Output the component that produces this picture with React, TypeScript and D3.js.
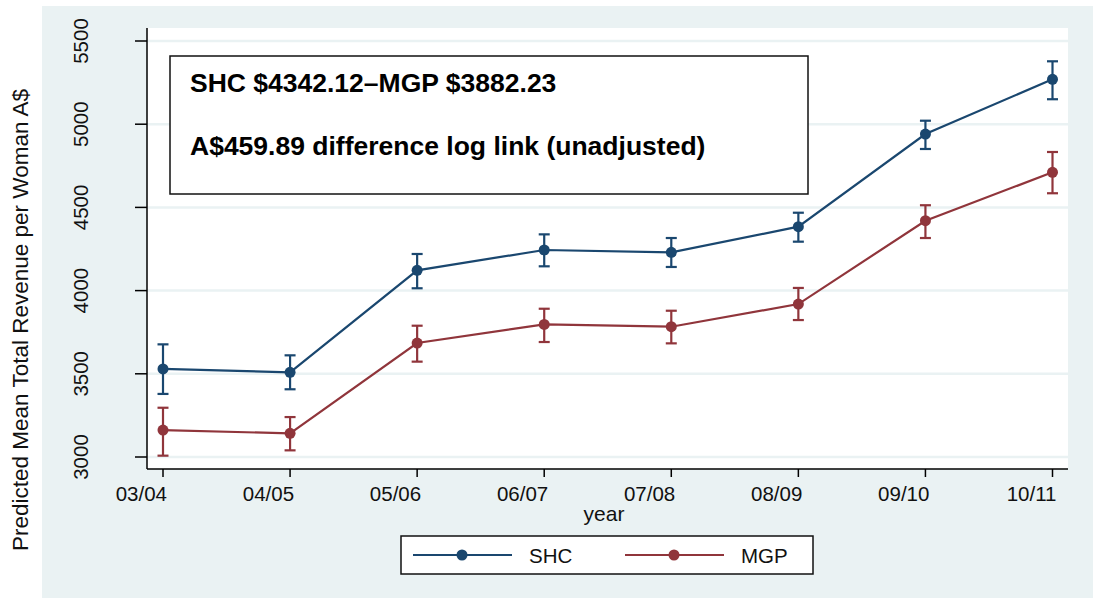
import React from "react";
import * as d3 from "d3";

const years = ["03/04", "04/05", "05/06", "06/07", "07/08", "08/09", "09/10", "10/11"];
const shcMean = [3529, 3509, 4122, 4244, 4230, 4384, 4941, 5270];
const shcLow = [3379, 3407, 4014, 4146, 4142, 4294, 4851, 5150];
const shcHigh = [3677, 3611, 4220, 4338, 4316, 4468, 5021, 5378];
const mgpMean = [3162, 3142, 3685, 3797, 3783, 3919, 4420, 4711];
const mgpLow = [3008, 3040, 3573, 3691, 3683, 3823, 4316, 4585];
const mgpHigh = [3296, 3240, 3789, 3891, 3879, 4016, 4513, 4833];
const yTicks = [3000, 3500, 4000, 4500, 5000, 5500];
const seriesNames = ["SHC", "MGP"];
const boxLines = ["SHC $4342.12\u2013MGP $3882.23", "A$459.89 difference log link (unadjusted)"];

const W = 1093;
const H = 598;
const NAVY = "#1a476f";
const MAROON = "#90353b";
const BG = "#eaf2f3";
const FONT = "'Liberation Sans', Arial, Helvetica, sans-serif";

export default function App() {
  const plotL = 147, plotR = 1068, plotT = 28, plotB = 469;
  const x = d3.scalePoint<string>().domain(years).range([163, 1052.5]);
  const y = d3.scaleLinear().domain([3000, 5500]).range([457, 41]);

  const series = [
    { name: seriesNames[0], color: NAVY, mean: shcMean, lo: shcLow, hi: shcHigh },
    { name: seriesNames[1], color: MAROON, mean: mgpMean, lo: mgpLow, hi: mgpHigh },
  ];

  const line = d3
    .line<number>()
    .x((_, i) => x(years[i]) as number)
    .y((d) => y(d));

  const capW = 5.5;

  return (
    <svg
      width={W}
      height={H}
      style={{ position: "absolute", left: 0, top: 0, fontFamily: FONT }}
    >
      <rect x={0} y={0} width={W} height={H} fill="#ffffff" />
      <rect x={42} y={6} width={W - 42} height={H - 6} fill={BG} />
      <rect x={plotL} y={plotT} width={plotR - plotL} height={plotB - plotT} fill="#ffffff" />

      {/* gridlines */}
      {yTicks.map((t) => (
        <line key={"g" + t} x1={plotL} x2={plotR} y1={y(t)} y2={y(t)} stroke={BG} strokeWidth={2.5} />
      ))}

      {/* axes */}
      <line x1={plotL} x2={plotL} y1={plotT} y2={plotB} stroke="#000" strokeWidth={1.5} />
      <line x1={plotL} x2={plotR} y1={plotB} y2={plotB} stroke="#000" strokeWidth={1.5} />

      {yTicks.map((t) => (
        <g key={"yt" + t}>
          <line x1={135} x2={plotL} y1={y(t)} y2={y(t)} stroke="#000" strokeWidth={1.5} />
          <text
            transform={`translate(88,${y(t)}) rotate(-90)`}
            textAnchor="middle"
            fontSize={20.5}
            fill="#111"
          >
            {t}
          </text>
        </g>
      ))}

      {years.map((yr) => (
        <g key={"xt" + yr}>
          <line x1={x(yr)} x2={x(yr)} y1={plotB} y2={477} stroke="#000" strokeWidth={1.5} />
          <text x={(x(yr) as number) + 4} y={501} textAnchor="end" fontSize={20.5} fill="#111">
            {yr}
          </text>
        </g>
      ))}

      <text x={604} y={521} textAnchor="middle" fontSize={21} fill="#111">
        year
      </text>
      <text
        transform="translate(28,320) rotate(-90)"
        textAnchor="middle"
        fontSize={22.5}
        fill="#111"
      >
        Predicted Mean Total Revenue per Woman A$
      </text>

      {/* text box */}
      <rect x={170} y={56} width={638} height={138} fill="#fff" stroke="#111" strokeWidth={1.5} />
      <text x={190} y={92} fontSize={26.5} fontWeight="bold" fill="#000">
        {boxLines[0]}
      </text>
      <text x={190} y={155} fontSize={26.5} fontWeight="bold" fill="#000">
        {boxLines[1]}
      </text>

      {/* series */}
      {series.map((s) => (
        <g key={s.name}>
          <path d={line(s.mean) || ""} fill="none" stroke={s.color} strokeWidth={2.2} />
          {s.mean.map((_, i) => {
            const cx = x(years[i]) as number;
            return (
              <g key={i} stroke={s.color} strokeWidth={2.2}>
                <line x1={cx} x2={cx} y1={y(s.lo[i])} y2={y(s.hi[i])} />
                <line x1={cx - capW} x2={cx + capW} y1={y(s.lo[i])} y2={y(s.lo[i])} />
                <line x1={cx - capW} x2={cx + capW} y1={y(s.hi[i])} y2={y(s.hi[i])} />
              </g>
            );
          })}
          {s.mean.map((v, i) => (
            <circle key={"m" + i} cx={x(years[i]) as number} cy={y(v)} r={5.5} fill={s.color} />
          ))}
        </g>
      ))}

      {/* legend */}
      <rect x={401} y={536} width={412} height={38} fill="#fff" stroke="#111" strokeWidth={1.5} />
      {series.map((s, i) => {
        const lx = i === 0 ? 413 : 625;
        return (
          <g key={"lg" + s.name}>
            <line x1={lx} x2={lx + 99} y1={555} y2={555} stroke={s.color} strokeWidth={2.2} />
            <circle cx={lx + 49} cy={555} r={5.5} fill={s.color} />
            <text x={lx + 116} y={562.5} fontSize={20.5} fill="#111">
              {s.name}
            </text>
          </g>
        );
      })}
    </svg>
  );
}
